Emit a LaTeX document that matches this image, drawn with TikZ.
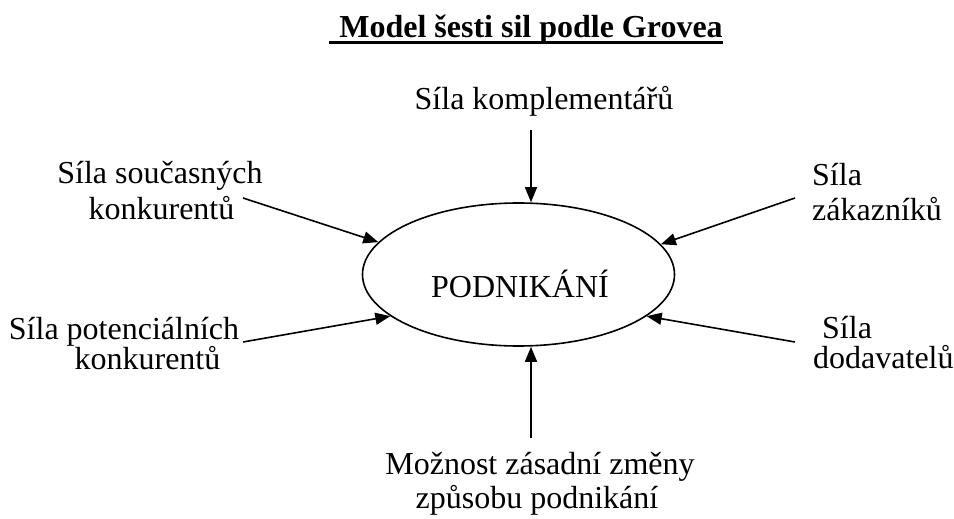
\documentclass[tikz,border=0pt]{standalone}
\usepackage{fontspec}
\setmainfont{Liberation Serif}
\usetikzlibrary{arrows.meta,shapes.geometric,calc}
\begin{document}
\begin{tikzpicture}[x=1pt,y=-1pt,
  lbl/.style={inner sep=0pt,anchor=base,font=\fontsize{32}{38}\selectfont},
  lbll/.style={lbl,anchor=base west},
  force/.style={line width=1.6pt,-{Triangle[length=15pt,width=12pt]}},
]
\useasboundingbox[fill=white] (0,0) rectangle (954,519);

% heading
\node[lbl,font=\bfseries\fontsize{32}{38}\selectfont] (title) at (531,38) {Model šesti sil podle Grovea};
\draw[line width=3pt] ($(title.base west)+(-10,5)$) -- ($(title.base east)+(0,5)$);

% central ellipse
\node[draw,ellipse,line width=1.6pt,minimum width=312pt,minimum height=143pt,inner sep=0pt] (pod) at (518.5,274.5) {};
\node[lbl] (podtxt) at (520,297) {PODNIKÁNÍ};

% forces
\node[lbl] (kompl) at (544,110) {Síla komplementářů};

\node[lbl] (soucA) at (160,183) {Síla současných};
\node[lbl] (soucB) at (161.5,219) {konkurentů};

\node[lbl] (potA) at (124,339) {Síla potenciálních};
\node[lbl] (potB) at (147.5,369) {konkurentů};

\node[lbll] (zakA) at (812,185) {Síla};
\node[lbll] (zakB) at (812,220) {zákazníků};

\node[lbll] (dodA) at (822,338) {Síla};
\node[lbll] (dodB) at (813,368) {dodavatelů};

\node[lbl] (zmenaA) at (540,474) {Možnost zásadní změny};
\node[lbl] (zmenaB) at (537,508) {způsobu podnikání};

% arrow tails
\coordinate (cKompl) at (531,130);
\coordinate (cSouc) at (243,198);
\coordinate (cPot) at (243,342);
\coordinate (cZak) at (795,198);
\coordinate (cDod) at (795,342);
\coordinate (cZmena) at (531,438);

% arrows towards the ellipse
\draw[force] (cKompl) -- (cKompl |- pod.north);
\draw[force] (cZmena) -- (cZmena |- pod.south);
\draw[force] (cSouc) -- (pod.167.5);
\draw[force] (cPot) -- (pod.198.3);
\draw[force] (cZak) -- (pod.12.5);
\draw[force] (cDod) -- (pod.342);
\end{tikzpicture}
\end{document}
